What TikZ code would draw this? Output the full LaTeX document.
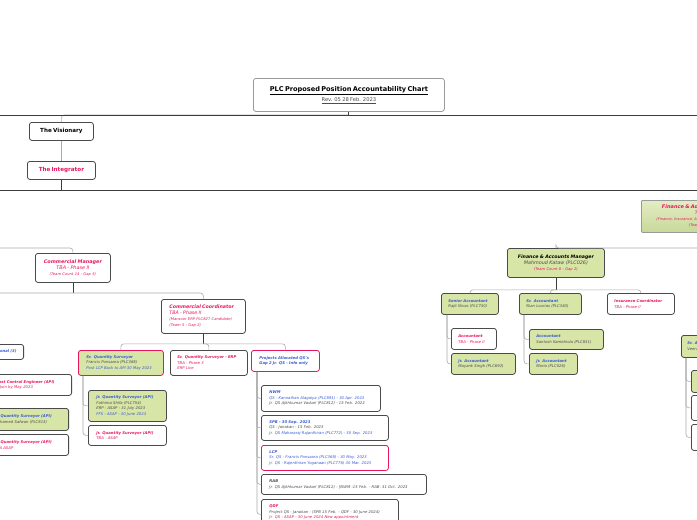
\documentclass[tikz,border=0pt]{standalone}
\usepackage{fontspec}
\setmainfont{DejaVu Sans}
\definecolor{pnk}{HTML}{E8175D}
\definecolor{blu}{HTML}{3A5BD6}
\definecolor{dtx}{HTML}{4D4D4D}
\definecolor{grn}{HTML}{D7E5A6}
\definecolor{bdr}{HTML}{4A4A4A}
\definecolor{lgr}{HTML}{AAAAAA}
\definecolor{dgr}{HTML}{3C3C3C}
\definecolor{tgr}{HTML}{9A9A9A}
\definecolor{faT}{HTML}{E3ECC4}
\definecolor{faB}{HTML}{C8D89A}
\newcommand\fsz[2]{\fontsize{#1}{#2}\selectfont}
\newcommand\bix{\bfseries\itshape}
\newcommand\lne[2]{\mbox{#1#2}}
\begin{document}
\begin{tikzpicture}[x=1pt,y=-1pt,
  box/.style={draw=bdr, line width=0.8pt, rounded corners=2.5pt, fill=white,
    inner xsep=7pt, inner ysep=1pt, anchor=north west, align=left, font=\fsz{3.8}{5.5}},
  grnbox/.style={box, fill=grn},
  pb/.style={draw=pnk},
  con/.style={draw=lgr, line width=0.6pt, rounded corners=3pt},
  stub/.style={draw=dgr, line width=0.8pt},
  mainln/.style={draw=dgr, line width=0.9pt}]
\useasboundingbox (0,0) rectangle (697,520);
\clip (0,0) rectangle (697,520);
\fill[white] (0,0) rectangle (697,520);

% free ends
\coordinate (h1L) at (0,115); \coordinate (h1R) at (697,115);
\coordinate (h2L) at (0,190); \coordinate (h2R) at (697,190);
\coordinate (cmin) at (0,248);
\coordinate (cmbar) at (0,293);

% ---------- nodes ----------
\node[box, draw=tgr, text width=177pt, minimum height=33pt, align=center] (title) at (253,78)
  {\lne{\bfseries\fsz{6.6}{8}}{\underline{PLC Proposed Position Accountability Chart}}\\[1.5pt]
   \lne{\fsz{5.2}{6}\color{dtx}}{\underline{Rev. 05 28 Feb. 2023}}};

\node[box, text width=50pt, minimum height=18pt, align=center] (vis) at (29,122)
  {\lne{\bfseries\fsz{5.6}{7}}{The Visionary}};
\node[box, text width=54pt, minimum height=18pt, align=center] (int) at (27,161)
  {\lne{\bfseries\fsz{5.6}{7}\color{pnk}}{The Integrator}};

% Finance side
\node[box, draw=tgr, top color=faT, bottom color=faB, rounded corners=1pt, text width=124pt,
  minimum height=32pt, align=center, font=\fsz{4}{6}] (fa) at (641,200)
  {\lne{\bix\fsz{5}{6}\color{pnk}}{Finance \& Administration Manager}\\
   \lne{\itshape\fsz{4.6}{6}\color{pnk}}{TBA - Phase II}\\
   \lne{\itshape\fsz{3.6}{5}\color{pnk}}{(Finance, Insurance, Administration, HR, IT \& Procurement)}\\
   \lne{\itshape\fsz{3.6}{5}\color{pnk}}{(Team Count 9 - Gap 3)}};

\node[grnbox, text width=83pt, minimum height=29pt, align=center, font=\fsz{4}{6.3}] (fam) at (507,248)
  {\lne{\bix\fsz{4.7}{6}}{Finance \& Accounts Manager}\\
   \lne{\itshape\fsz{4.9}{6}\color{dtx}}{Mahmoud Kataw (PLC026)}\\
   \lne{\itshape\fsz{3.7}{5}\color{pnk}}{(Team Count 8 - Gap 2)}};

\node[grnbox, text width=43pt, minimum height=21pt] (sa) at (441,293)
  {\lne{\bix\color{blu}}{Senior Accountant}\\\lne{\itshape\color{dtx}}{Rajit Nivas (PLC730)}};
\node[grnbox, text width=48pt, minimum height=21pt] (sra) at (519,293)
  {\lne{\bix\color{blu}}{Sr. Accountant}\\\lne{\itshape\color{dtx}}{Nian Lourias (PLC340)}};
\node[box, text width=53pt, minimum height=21pt] (ic) at (607,293)
  {\lne{\bix\color{pnk}}{Insurance Coordinator}\\\lne{\itshape\color{pnk}}{TBA - Phase II}};

\node[box, text width=31pt, minimum height=21pt] (acc1) at (451,328)
  {\lne{\bix\color{pnk}}{Accountant}\\\lne{\itshape\color{pnk}}{TBA - Phase II}};
\node[grnbox, text width=50pt, minimum height=21pt] (jacc1) at (451,353)
  {\lne{\bix\color{blu}}{Jr. Accountant}\\\lne{\itshape\color{dtx}}{Mayank Singh (PLC692)}};
\node[grnbox, text width=60pt, minimum height=20pt] (acc2) at (529,329)
  {\lne{\bix\color{blu}}{Accountant}\\\lne{\itshape\color{dtx}}{Santosh Kambhiola (PLC831)}};
\node[grnbox, text width=34pt, minimum height=21pt] (jacc2) at (529,353)
  {\lne{\bix\color{blu}}{Jr. Accountant}\\\lne{\itshape\color{dtx}}{Maria (PLC026)}};

\node[grnbox, text width=46pt, minimum height=22pt, inner xsep=6pt] (rb) at (681,335)
  {\lne{\bix\color{blu}}{Sr. Accountant}\\\lne{\itshape\color{dtx}}{Veeran (PLC345)}};
\node[grnbox, text width=26pt, minimum height=22pt] (rc1) at (691,370) {};
\node[box, text width=26pt, minimum height=25pt] (rc2) at (691,395) {};
\node[box, text width=26pt, minimum height=26pt] (rc3) at (691,424) {};

% Commercial side
\node[box, text width=61pt, minimum height=29pt, align=center, font=\fsz{4}{6.3}] (cm) at (35,253)
  {\lne{\bix\fsz{4.9}{6}\color{pnk}}{Commercial Manager}\\
   \lne{\itshape\fsz{4.9}{6}\color{pnk}}{TBA - Phase II}\\
   \lne{\itshape\fsz{3.7}{5}\color{pnk}}{(Team Count 14 - Gap 5)}};

\node[box, text width=68pt, minimum height=34pt, inner xsep=8pt, font=\fsz{4}{6}] (cc) at (161,299)
  {\lne{\bix\fsz{4.75}{6}\color{pnk}}{Commercial Coordinator}\\
   \lne{\itshape\fsz{4.75}{6}\color{pnk}}{TBA - Phase II}\\
   \lne{\itshape\fsz{3.7}{5}\color{pnk}}{(Mansoor ERP PLC827 Candidate)}\\
   \lne{\itshape\fsz{3.7}{5}\color{pnk}}{(Team 5 - Gap 2)}};

\node[grnbox, pb, text width=69pt, minimum height=25pt, inner xsep=8pt] (sqs) at (78,350)
  {\lne{\bix\color{blu}}{Sr. Quantity Surveyor}\\
   \lne{\itshape\color{dtx}}{Francis Ponsaara (PLC368)}\\
   \lne{\itshape\color{blu}}{Post LCP Back to API 30 May 2023}};
\node[box, text width=63pt, minimum height=25pt] (sqse) at (170,350)
  {\lne{\bix\color{pnk}}{Sr. Quantity Surveyor - ERP}\\
   \lne{\itshape\color{pnk}}{TBA - Phase 3}\\
   \lne{\itshape\color{pnk}}{ERP Live}};
\node[box, pb, text width=52pt, minimum height=21pt, inner xsep=8pt] (paq) at (251,350)
  {\lne{\bix\color{blu}}{Projects Allocated QS's}\\
   \lne{\bix\color{blu}}{Gap 2 Jr. QS - Info only}};

\node[grnbox, text width=62pt, minimum height=31pt, inner xsep=8pt] (jq1) at (88,390)
  {\lne{\bix\color{blu}}{Jr. Quantity Surveyor (API)}\\
   \lne{\itshape\color{dtx}}{Fathima Shifa (PLC754)}\\
   \lne{\itshape\color{dtx}}{ERP - ASAP - 31 July 2023}\\
   \lne{\itshape\color{blu}}{FFS - ASAP - 30 June 2023}};
\node[box, text width=62pt, minimum height=20pt, inner xsep=8pt] (jq2) at (88,425)
  {\lne{\bix\color{pnk}}{Jr. Quantity Surveyor (API)}\\
   \lne{\itshape\color{pnk}}{TBA - ASAP}};

\node[box, text width=103pt, minimum height=26pt, inner xsep=8pt] (nwm) at (261,385)
  {\lne{\bix\color{blu}}{NWM}\\
   \lne{\itshape\color{blu}}{QS - Kannathan Alagaiya (PLC891) - 30 Apr. 2023}\\
   \lne{\itshape\color{dtx}}{Jr. QS Ajithkumar Vaduel (PLC812) - 15 Feb. 2023}};
\node[box, text width=111pt, minimum height=25pt, inner xsep=8pt] (spb) at (261,415)
  {\lne{\bix\color{blu}}{SPB - 30 Sep. 2023}\\
   \lne{\itshape\color{dtx}}{QS - Janakan - 15 Feb. 2023}\\
   \lne{\itshape\color{blu}}{Jr. QS Mahararaj Rajanthiran (PLC772) - 30 Sep. 2023}};
\node[box, pb, text width=111pt, minimum height=25pt, inner xsep=8pt] (lcp) at (261,445)
  {\lne{\bix\color{blu}}{LCP}\\
   \lne{\itshape\color{blu}}{Sr. QS - Francis Ponsaara (PLC368) - 30 May. 2023}\\
   \lne{\itshape\color{blu}}{Jr. QS - Rajenthiran Yoganaan (PLC776) 30 Mar. 2023}};
\node[box, text width=149pt, minimum height=20pt, inner xsep=8pt] (rab) at (261,474)
  {\lne{\bix\color{dtx}}{RAB}\\
   \lne{\itshape\color{dtx}}{Jr. QS Ajithkumar Vaduel (PLC812) - [NWM -15 Feb. - RAB- 31 Oct. 2023}};
\node[box, text width=121pt, minimum height=30pt, inner xsep=8pt] (qdf) at (261,499)
  {\lne{\bix\color{pnk}}{QDF}\\
   \lne{\itshape\color{dtx}}{Project QS - Janakan - (SPB 15 Feb. - QDF - 30 June 2024)}\\
   \lne{\itshape\color{pnk}}{Jr. QS - ASAP - 30 June 2024 New appointment}\\ \mbox{}};

% left clipped boxes
\node[box, anchor=north east, text width=56pt, minimum height=15pt, align=right] (lb1) at (24,344)
  {\lne{\bix\color{blu}}{QS Regional (3)}};
\node[box, anchor=north east, text width=76pt, minimum height=21pt] (lb2) at (72,374)
  {\lne{\bix\color{pnk}}{Sr. Cost Control Engineer (API)}\\
   \lne{\itshape\color{pnk}}{TBA - Join by May 2023}};
\node[grnbox, anchor=north east, text width=67pt, minimum height=22pt] (lb3) at (69,408)
  {\lne{\bix\color{blu}}{Jr. Quantity Surveyor (API)}\\
   \lne{\itshape\color{dtx}}{Mohamed Safwan (PLC813)}};
\node[box, anchor=north east, text width=67pt, minimum height=21pt] (lb4) at (69,434)
  {\lne{\bix\color{pnk}}{Jr. Quantity Surveyor (API)}\\
   \lne{\itshape\color{pnk}}{TBA ASAP}};

% ---------- connectors ----------
\draw[con] (title.south |- h1L) -| (vis.north);
\draw[mainln] (h1L) -- (h1R);
\draw[mainln] (title.south) -- (title.south |- h1L);
\draw[con] (vis.south) -- (int.north);
\draw[mainln] (int.south) -- (int.south |- h2L);
\draw[mainln] (h2L) -- (h2R);

% finance
\draw[con] (fa.south |- cmin) -| (fam.north);
\draw[stub] (fam.south) -- ++(0,12) coordinate (fambar);
\draw[con] (fambar) -| (sa.north);
\draw[con] (fambar) -| (sra.north);
\draw[con] (fambar) -| (ic.north);
\draw[con] ([xshift=6pt]sa.south west) |- (acc1.west);
\draw[con] ([xshift=6pt]sa.south west) |- (jacc1.west);
\draw[con] ([xshift=5pt]sra.south west) |- (acc2.west);
\draw[con] ([xshift=5pt]sra.south west) |- (jacc2.west);
\draw[con] ([xshift=5pt]rb.south west) |- (rc1.west);
\draw[con] ([xshift=5pt]rb.south west) |- (rc2.west);
\draw[con] ([xshift=5pt]rb.south west) |- (rc3.west);

% commercial
\draw[con] (cmin) -| (cm.north);
\draw[stub] (cm.south) -- (cm.south |- cmbar);
\draw[con] (cmbar) -- (cm.south |- cmbar) -| (cc.north);
\draw[stub] (cc.south) -- ++(0,10) coordinate (ccbar);
\draw[con] (ccbar) -| (sqs.north);
\draw[con] (ccbar) -| (sqse.north);
\draw[con] (ccbar) -| (paq.north);
\draw[con] ([xshift=5pt]sqs.south west) |- (jq1.west);
\draw[con] ([xshift=5pt]sqs.south west) |- (jq2.west);
\draw[con] ([xshift=6pt]paq.south west) |- (nwm.west);
\draw[con] ([xshift=6pt]paq.south west) |- (spb.west);
\draw[con] ([xshift=6pt]paq.south west) |- (lcp.west);
\draw[con] ([xshift=6pt]paq.south west) |- (rab.west);
\draw[con] ([xshift=6pt]paq.south west) |- (qdf.west);
\end{tikzpicture}
\end{document}
